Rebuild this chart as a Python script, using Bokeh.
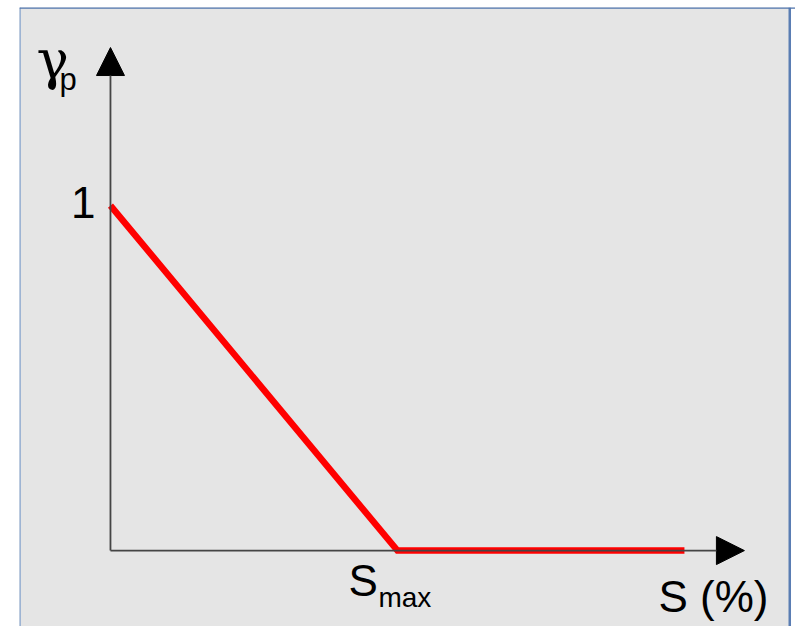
from bokeh.plotting import figure
from bokeh.models import Range1d, Arrow, NormalHead, Label, Span
from bokeh.embed import file_html
from bokeh.resources import INLINE

# Data
S_values = [0.0, 1.0, 2.0]        # S, in units of S_max
gamma_values = [1.0, 0.0, 0.0]    # gamma_p
y_tick_value = 1.0
y_tick_label = "1"
x_tick_value = 1.0
x_tick_main = "S"
x_tick_sub = "max"
x_title = "S (%)"
y_title_main = "γ"
y_title_sub = "p"
x_axis_end = 2.209
y_axis_end = 1.458

X0, X1 = -0.317, 2.387
Y0, Y1 = -0.220, 1.574
RIGHT_EDGE = 2.367

p = figure(width=795, height=626, output_backend="svg", toolbar_location=None,
           x_range=Range1d(X0, X1), y_range=Range1d(Y0, Y1),
           x_axis_location=None, y_axis_location=None,
           min_border_left=19, min_border_right=0, min_border_top=7, min_border_bottom=0)
p.grid.visible = False
p.background_fill_color = "#e5e5e5"
p.border_fill_color = "white"
p.outline_line_color = None

# right part beyond the frame border is white
p.add_layout(BoxAnnotation := __import__("bokeh.models", fromlist=["BoxAnnotation"]).BoxAnnotation(
    left=RIGHT_EDGE, fill_color="white", fill_alpha=1.0, line_color=None))

# frame border (left, top, right)
for loc, dim, col in [(X0, "height", "#86a3cc"), (RIGHT_EDGE, "height", "#5a7db3"), (Y1, "width", "#4f74ad")]:
    p.add_layout(Span(location=loc, dimension=dim, line_color=col, line_width=2.5))

font = "Liberation Sans"

# axes arrows
p.add_layout(Arrow(x_start=0, y_start=0, x_end=0, y_end=y_axis_end,
                   line_color="#454545", line_width=1.8,
                   end=NormalHead(size=28, fill_color="black", line_color="black")))
p.add_layout(Arrow(x_start=0, y_start=0, x_end=x_axis_end, y_end=0,
                   line_color="#454545", line_width=1.8,
                   end=NormalHead(size=28, fill_color="black", line_color="black")))

# red curve
p.line(S_values, gamma_values, line_color="#ff0000", line_width=6.5, line_join="miter")

def lab(x, y, t, size, xo, yo, align="left", f=font):
    p.add_layout(Label(x=x, y=y, text=t, x_offset=xo, y_offset=yo + 16,
                       text_font=f, text_font_size=f"{size}px", text_color="black",
                       text_align=align, text_baseline="alphabetic"))

lab(0, y_tick_value, y_tick_label, 44, -15, -13, "right")
lab(x_tick_value, 0, x_tick_main, 44, -49, -46)
lab(x_tick_value, 0, x_tick_sub, 28, -19, -63)
lab(x_axis_end, 0, x_title, 44, -86, -62)
lab(0, y_axis_end, y_title_main, 54, -74, -29, f="DejaVu Serif")
lab(0, y_axis_end, y_title_sub, 31, -51, -48)

open("out.html", "w").write(file_html(p, INLINE))
